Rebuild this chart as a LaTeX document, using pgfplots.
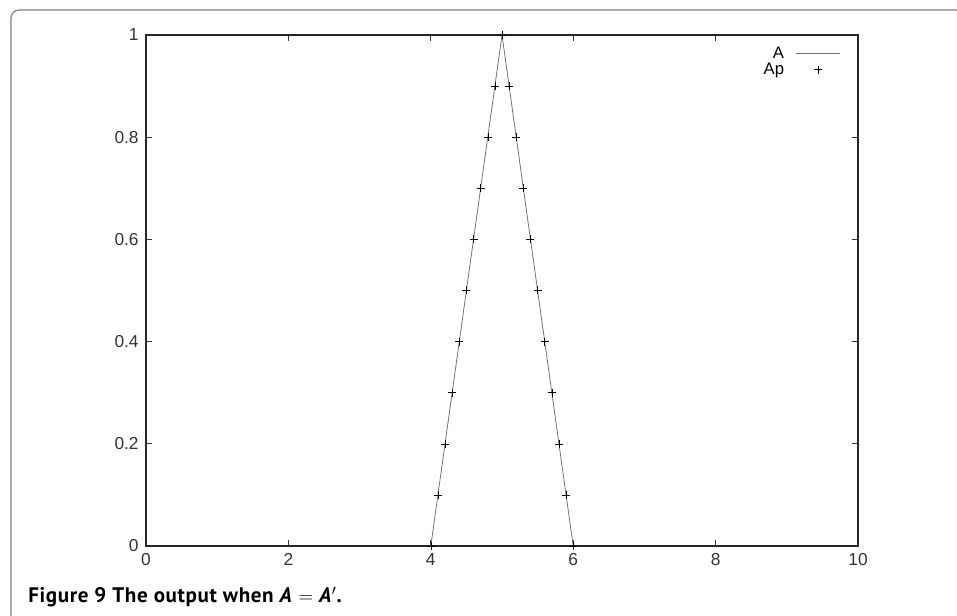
\documentclass[border=0pt]{standalone}
\usepackage{fontspec}
\setmainfont{Liberation Sans}
\newfontfamily\capfont{PT Sans}[LetterSpace=3]
\usepackage{pgfplots}
\pgfplotsset{compat=1.18}
\pgfplotsset{
  lineleg/.style={legend image code/.code={\draw[##1] (0pt,0pt) -- (33pt,0pt);}},
  markleg/.style={legend image code/.code={\draw[mark repeat=2, mark phase=2, ##1]
    plot coordinates {(0pt,0pt) (16.5pt,0pt) (33pt,0pt)};}},
}

\begin{document}
\begin{tikzpicture}[x=0.75pt,y=0.75pt]
\useasboundingbox (0,0) rectangle (957,615);
% page frame, only top and left edges visible
\draw[black!50, line width=0.9pt, rounded corners=6] (11,-10) -- (11,605) -- (970,605);
\begin{axis}[
  at={(109.5pt,51.75pt)}, anchor=south west,
  scale only axis,
  width=534pt, height=383.25pt,
  xmin=0, xmax=10, ymin=0, ymax=1,
  xtick={0,2,...,10},
  ytick={0,0.2,...,1},
  yticklabels={0,0.2,0.4,0.6,0.8,1},
  tick align=inside,
  major tick length=4.5pt,
  tick style={black!80, line width=0.5pt},
  axis line style={black!85, line width=1pt},
  tick label style={font=\fontsize{13}{15}\selectfont, text=black!80},
  xticklabel style={yshift=-2pt},
  yticklabel style={xshift=-2pt},
  /pgf/number format/assume math mode=true,
  clip=false,
  legend plot pos=right,
  legend cell align=right,
  legend style={draw=none, fill=none, at={(0.981,0.985)}, anchor=north east,
    font=\fontsize{12.5}{13}\selectfont, row sep=0pt, column sep=8pt,
    nodes={text height=9pt, text depth=2pt, inner sep=0.5pt}},
]
\addplot[black!55, line width=0.6pt, mark=none, lineleg] coordinates {
  (4,0) (5,1) (6,0)
};
\addlegendentry{A}
\addplot[only marks, mark=+, mark size=3pt, black, line width=0.35pt, markleg] coordinates {
  (4.0,0.0) (4.1,0.1) (4.2,0.2) (4.3,0.3) (4.4,0.4) (4.5,0.5) (4.6,0.6) (4.7,0.7)
  (4.8,0.8) (4.9,0.9) (5.0,1.0) (5.1,0.9) (5.2,0.8) (5.3,0.7) (5.4,0.6) (5.5,0.5)
  (5.6,0.4) (5.7,0.3) (5.8,0.2) (5.9,0.1) (6.0,0.0)
};
\addlegendentry{Ap}
\end{axis}
\node[anchor=base west, inner sep=0pt, font=\capfont\bfseries\fontsize{15.8}{18}\selectfont]
  at (28,13) {Figure 9 The output when \textit{A} $=$ \textit{A}$'$.};
\end{tikzpicture}
\end{document}
